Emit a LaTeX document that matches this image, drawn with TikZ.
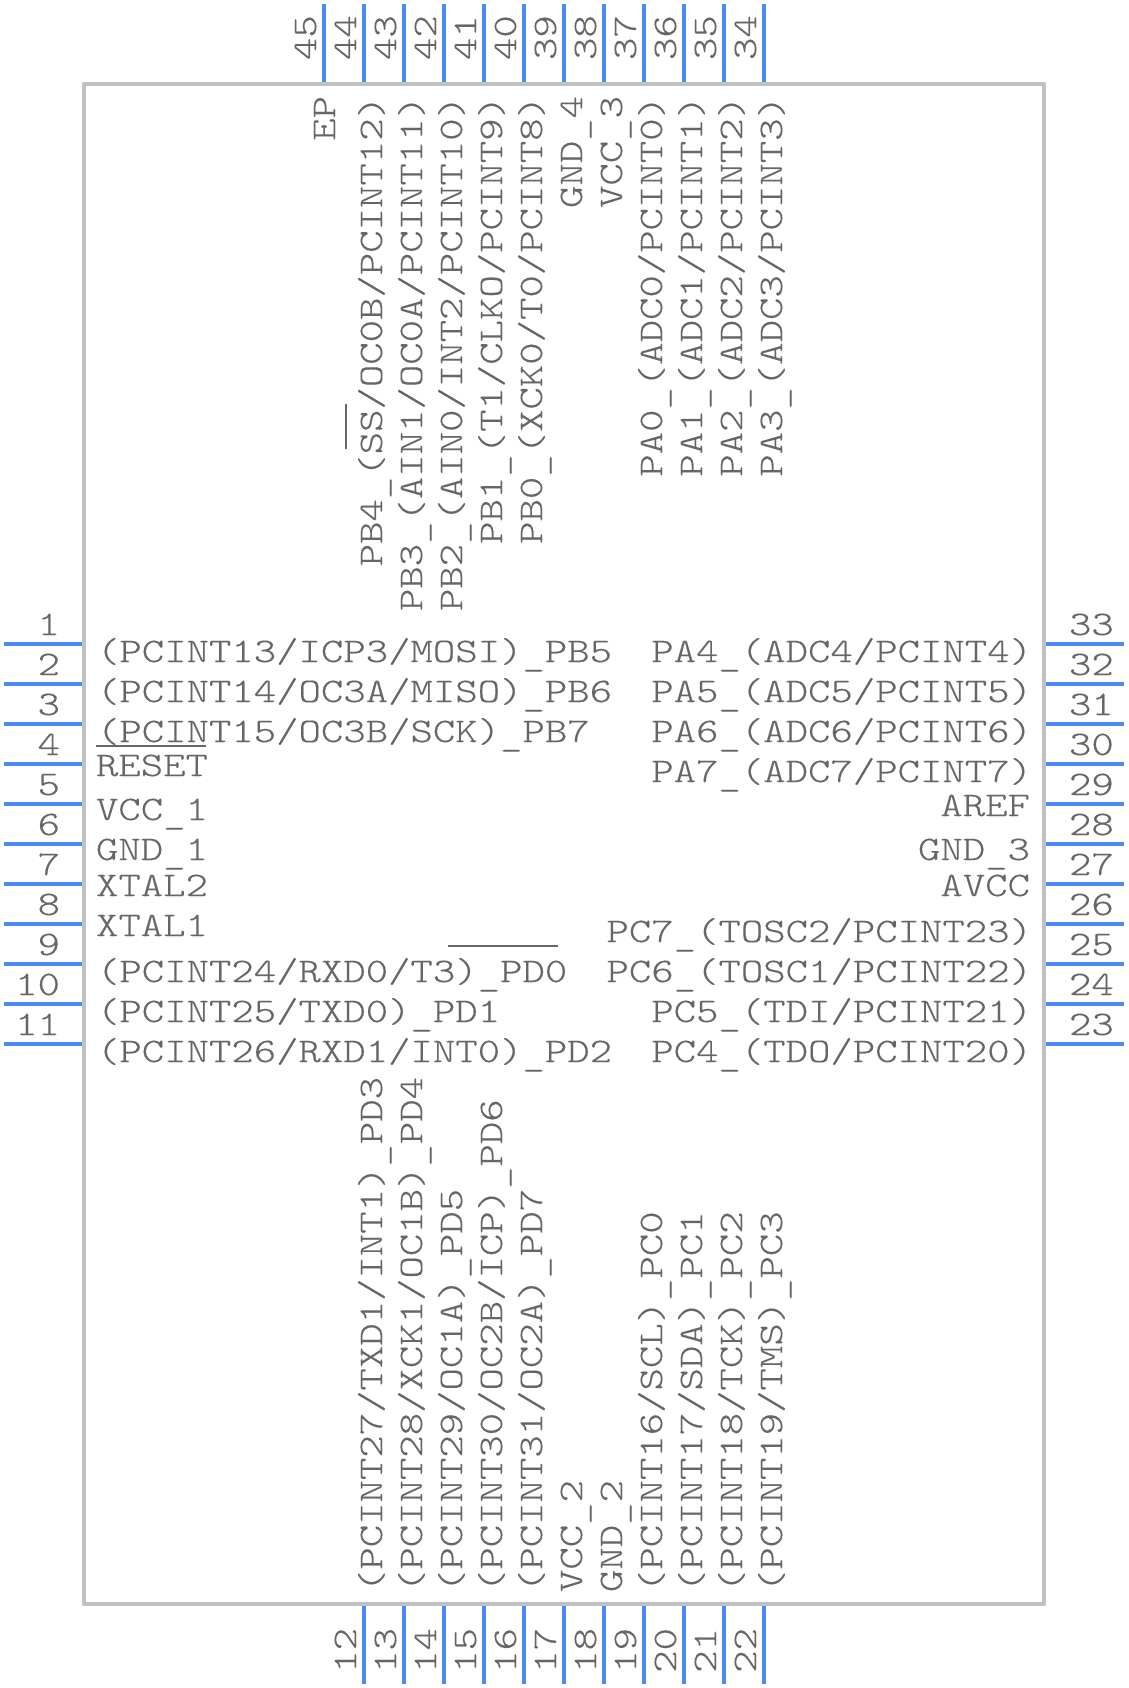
\documentclass[tikz,border=0pt]{standalone}
\usepackage{fontspec}
\setmonofont[FakeStretch=1.24,FakeBold=0.3]{Latin Modern Mono Light}
\definecolor{boxgray}{HTML}{C0C0C0}
\definecolor{pinblue}{HTML}{4A8BF5}
\definecolor{labelgray}{HTML}{666666}
\newcommand{\us}{\raisebox{-3.5pt}{\_}}
\tikzset{
  x=1pt,y=-1pt,
  chipbody/.style={draw=boxgray,line width=4pt,line join=round,fill=white,minimum width=960pt,minimum height=1520pt,inner sep=0pt},
  pinline/.style={draw=pinblue,line width=4pt},
  lab/.style={text=labelgray,inner sep=0pt,outer sep=0pt,font=\fontsize{34.4}{34.4}\selectfont\ttfamily},
  ll/.style={lab,anchor=base west},
  lr/.style={lab,anchor=base east},
  vl/.style={lab,anchor=base west,rotate=90},
  vr/.style={lab,anchor=base east,rotate=90},
  bar/.style={draw=labelgray,line width=2pt},
}
\begin{document}
\begin{tikzpicture}
\useasboundingbox (0,0) rectangle (1128,1688);
\fill[white] (0,0) rectangle (1128,1688);
% left pins 1-11, right pins 33-23
\foreach \n [count=\i from 0] in {1,...,11}{
  \pgfmathtruncatemacro{\yy}{644+40*\i}
  \coordinate (pa\n) at (4,\yy); \coordinate (pb\n) at (84,\yy);
  \draw[pinline] (pa\n) -- (pb\n);
  \pgfmathtruncatemacro{\yn}{\yy-9}
  \node[lr] (n\n) at (60,\yn) {\n};
}
\foreach \n [count=\i from 0] in {33,32,...,23}{
  \pgfmathtruncatemacro{\yy}{644+40*\i}
  \coordinate (pa\n) at (1124,\yy); \coordinate (pb\n) at (1044,\yy);
  \draw[pinline] (pa\n) -- (pb\n);
  \pgfmathtruncatemacro{\yn}{\yy-9}
  \node[ll] (n\n) at (1069,\yn) {\n};
}
% top pins 45-34, bottom pins 12-22
\foreach \n [count=\i from 0] in {45,44,...,34}{
  \pgfmathtruncatemacro{\xx}{324+40*\i}
  \coordinate (pa\n) at (\xx,4); \coordinate (pb\n) at (\xx,84);
  \draw[pinline] (pa\n) -- (pb\n);
  \pgfmathtruncatemacro{\xn}{\xx-8}
  \node[vl] (n\n) at (\xn,60) {\n};
}
\foreach \n [count=\i from 0] in {12,...,22}{
  \pgfmathtruncatemacro{\xx}{364+40*\i}
  \coordinate (pa\n) at (\xx,1684); \coordinate (pb\n) at (\xx,1604);
  \draw[pinline] (pa\n) -- (pb\n);
  \pgfmathtruncatemacro{\xn}{\xx-8}
  \node[vr] (n\n) at (\xn,1628) {\n};
}
\node[chipbody] (chip) at (564,844) {};
% left labels
\node[ll] (t1) at (97,662) {(PCINT13/ICP3/MOSI)\us PB5};
\node[ll] (t2) at (97,702) {(PCINT14/OC3A/MISO)\us PB6};
\node[ll] (t3) at (97,742) {(PCINT15/OC3B/SCK)\us PB7};
\node[ll] (t4) at (96,776) {RESET};
\node[ll] (t5) at (96,820) {VCC\us 1};
\node[ll] (t6) at (96,860) {GND\us 1};
\node[ll] (t7) at (96,896) {XTAL2};
\node[ll] (t8) at (96,936) {XTAL1};
\node[ll] (t9) at (97,982) {(PCINT24/RXD0/T3)\us PD0};
\node[ll] (t10) at (97,1022) {(PCINT25/TXD0)\us PD1};
\node[ll] (t11) at (97,1062) {(PCINT26/RXD1/INT0)\us PD2};
% right labels
\node[lr] (t33) at (1032,662) {PA4\us (ADC4/PCINT4)};
\node[lr] (t32) at (1032,702) {PA5\us (ADC5/PCINT5)};
\node[lr] (t31) at (1032,742) {PA6\us (ADC6/PCINT6)};
\node[lr] (t30) at (1032,782) {PA7\us (ADC7/PCINT7)};
\node[lr] (t29) at (1030,816) {AREF};
\node[lr] (t28) at (1030,860) {GND\us 3};
\node[lr] (t27) at (1030,896) {AVCC};
\node[lr] (t26) at (1032,942) {PC7\us (TOSC2/PCINT23)};
\node[lr] (t25) at (1032,982) {PC6\us (TOSC1/PCINT22)};
\node[lr] (t24) at (1032,1022) {PC5\us (TDI/PCINT21)};
\node[lr] (t23) at (1032,1062) {PC4\us (TDO/PCINT20)};
% top labels
\node[vr] (t45) at (335,96) {EP};
\node[vr] (t44) at (382,96) {PB4\us (SS/OC0B/PCINT12)};
\node[vr] (t43) at (422,96) {PB3\us (AIN1/OC0A/PCINT11)};
\node[vr] (t42) at (462,96) {PB2\us (AIN0/INT2/PCINT10)};
\node[vr] (t41) at (502,96) {PB1\us (T1/CLKO/PCINT9)};
\node[vr] (t40) at (542,96) {PB0\us (XCK0/T0/PCINT8)};
\node[vr] (t39) at (582,96) {GND\us 4};
\node[vr] (t38) at (622,96) {VCC\us 3};
\node[vr] (t37) at (662,96) {PA0\us (ADC0/PCINT0)};
\node[vr] (t36) at (702,96) {PA1\us (ADC1/PCINT1)};
\node[vr] (t35) at (742,96) {PA2\us (ADC2/PCINT2)};
\node[vr] (t34) at (782,96) {PA3\us (ADC3/PCINT3)};
% bottom labels
\node[vl] (t12) at (382,1592) {(PCINT27/TXD1/INT1)\us PD3};
\node[vl] (t13) at (422,1592) {(PCINT28/XCK1/OC1B)\us PD4};
\node[vl] (t14) at (462,1592) {(PCINT29/OC1A)\us PD5};
\node[vl] (t15) at (502,1592) {(PCINT30/OC2B/ICP)\us PD6};
\node[vl] (t16) at (542,1592) {(PCINT31/OC2A)\us PD7};
\node[vl] (t17) at (582,1592) {VCC\us 2};
\node[vl] (t18) at (622,1592) {GND\us 2};
\node[vl] (t19) at (662,1592) {(PCINT16/SCL)\us PC0};
\node[vl] (t20) at (702,1592) {(PCINT17/SDA)\us PC1};
\node[vl] (t21) at (742,1592) {(PCINT18/TCK)\us PC2};
\node[vl] (t22) at (782,1592) {(PCINT19/TMS)\us PC3};
% overbars
\draw[bar] (96,746) -- (206,746);
\draw[bar] (448,946) -- (558,946);
\draw[bar] (346,404) -- (346,449);
\end{tikzpicture}
\end{document}
